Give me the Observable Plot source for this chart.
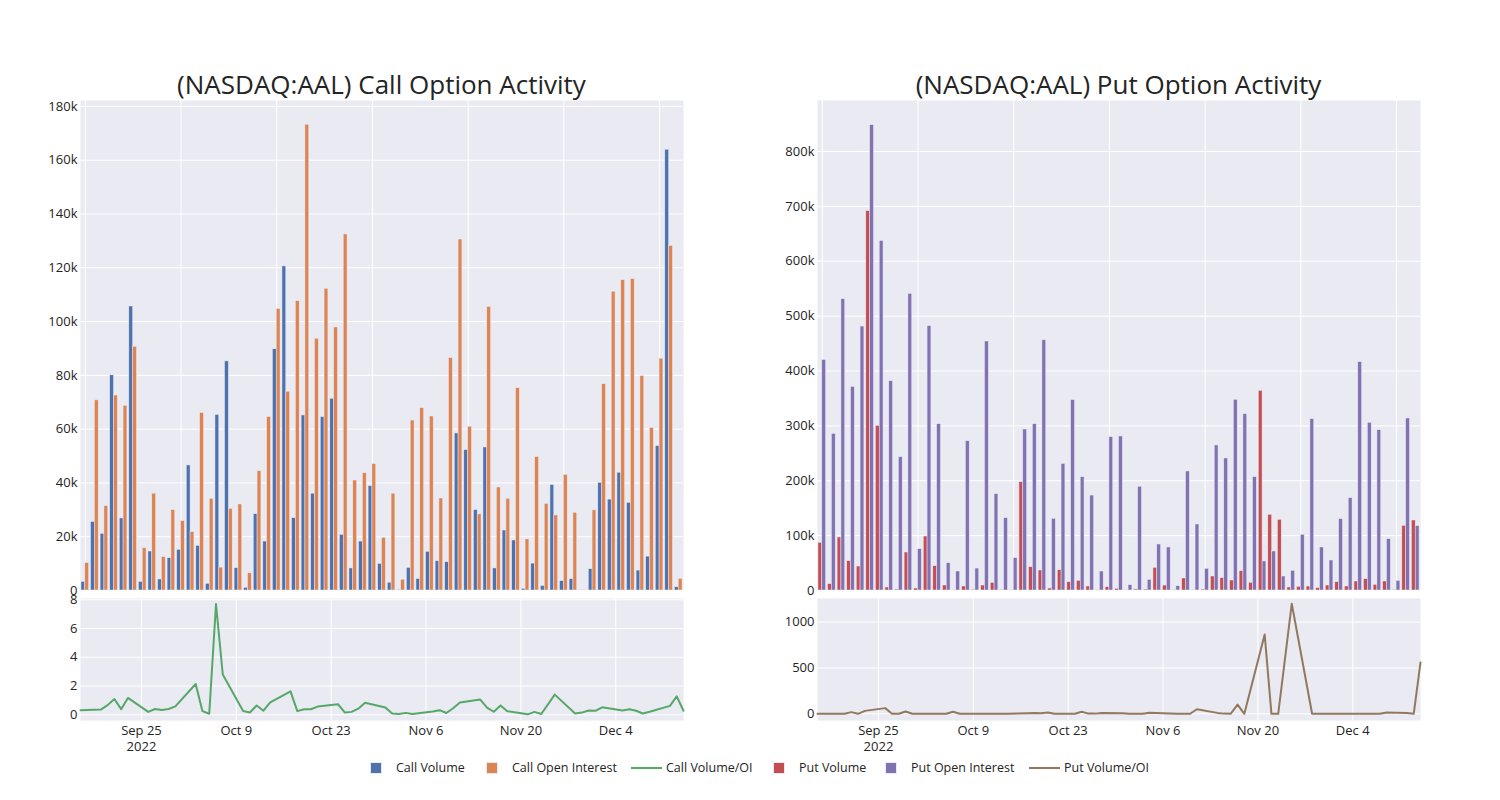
<!DOCTYPE html>
<html><head><meta charset="utf-8">
<script src="https://cdn.jsdelivr.net/npm/d3@7"></script>
<script src="https://cdn.jsdelivr.net/npm/@observablehq/plot@0.6"></script>
<style>
body{margin:0;background:#fff;font-family:"Open Sans",sans-serif;}
#root{position:relative;width:1500px;height:800px;overflow:hidden;background:#fff}
.panel{position:absolute}
.title{position:absolute;top:67px;height:34px;line-height:34px;font-size:26px;color:#242424;white-space:nowrap;transform:translateX(-50%)}
.lg{position:absolute;top:759px;height:18px;line-height:18px;font-size:12.5px;color:#242424;white-space:nowrap}
.sq{position:absolute;top:762px;width:12px;height:12px;box-sizing:border-box;border:0.5px solid #eaeaf2}
.ln{position:absolute;top:767px;width:31px;height:2px}
</style></head><body><div id="root"></div>
<script>
const dates = ["2022-09-16","2022-09-19","2022-09-20","2022-09-21","2022-09-22","2022-09-23",
"2022-09-26","2022-09-27","2022-09-28","2022-09-29","2022-09-30",
"2022-10-03","2022-10-04","2022-10-05","2022-10-06","2022-10-07",
"2022-10-10","2022-10-11","2022-10-12","2022-10-13","2022-10-14",
"2022-10-17","2022-10-18","2022-10-19","2022-10-20","2022-10-21",
"2022-10-24","2022-10-25","2022-10-26","2022-10-27","2022-10-28",
"2022-10-31","2022-11-01","2022-11-02","2022-11-03","2022-11-04",
"2022-11-07","2022-11-08","2022-11-09","2022-11-10","2022-11-11",
"2022-11-14","2022-11-15","2022-11-16","2022-11-17","2022-11-18",
"2022-11-21","2022-11-22","2022-11-23","2022-11-25",
"2022-11-28","2022-11-29","2022-11-30","2022-12-01","2022-12-02",
"2022-12-05","2022-12-06","2022-12-07","2022-12-08","2022-12-09",
"2022-12-12","2022-12-13","2022-12-14"];

const callVolume = [3200,25500,21100,80000,26800,105600,3200,14500,4100,12000,15100,46500,16600,2500,65300,85200,8300,1000,28400,18200,89700,120500,26900,65100,36000,64500,71300,20700,8200,18200,38800,9900,2900,200,8400,4300,14400,10900,10500,58400,52200,29900,53200,8200,22300,18600,600,10000,1700,39200,3500,4200,30,7900,40000,33800,43800,32600,7400,12600,53700,163900,1200];
const callOI = [10200,70700,31400,72500,68700,90600,15700,36000,12400,29900,25800,21700,66000,34100,8500,30400,32000,6400,44400,64500,104700,73900,107600,173200,93600,112200,97800,132400,40900,43600,47000,19600,36000,4000,63200,67800,64700,34200,86400,130500,60900,28300,105400,38300,34100,75200,19000,49600,32200,27900,43000,28900,100,29800,76700,111100,115400,115800,79700,60400,86200,128100,4300];
const callRatio = [0.31,0.36,0.67,1.1,0.39,1.17,0.2,0.4,0.33,0.4,0.58,2.14,0.25,0.07,7.7,2.8,0.26,0.16,0.64,0.28,0.86,1.63,0.25,0.38,0.38,0.57,0.73,0.16,0.2,0.42,0.83,0.5,0.08,0.05,0.13,0.06,0.22,0.32,0.12,0.45,0.86,1.06,0.5,0.21,0.65,0.25,0.03,0.2,0.05,1.4,0.08,0.15,0.3,0.27,0.52,0.3,0.38,0.28,0.09,0.21,0.62,1.28,0.28];
const putVolume = [86900,11500,96600,53500,43700,691400,300000,5500,1800,69300,3600,98400,44300,9100,500,7300,1500,9100,14000,1000,500,197400,42500,36500,3600,37000,15200,17600,7300,500,6000,3000,500,2000,1800,41300,9000,300,21900,200,1800,25500,22500,18200,35200,14000,363900,137900,128800,5500,6700,7300,4300,9100,15200,7300,16400,20700,10300,16400,1200,117900,127600];
const putOI = [420000,285500,531000,371000,481000,848000,637000,381500,243000,540700,75300,481800,303000,49800,34600,272000,40000,453800,175600,131800,58900,293400,303000,456000,130600,230800,347000,206600,173000,34600,279500,280700,9700,189000,19400,83800,78400,7900,216900,120300,39500,264300,240600,347500,321400,206600,52900,71100,25500,35800,101500,312300,78400,54700,130000,168300,416200,305600,292200,93600,17600,313500,117300];
const putRatio = [0,0,0,18,0,32,62,0,0,25,0,0,0,0,22,0,0,0,0,0,0,5,8,5,15,0,0,22,2,2,10,5,1,1,1,12,4,1,1,1,50,10,2,1,100,0,865,0,0,1200,0,0,0,0,0,0,0,0,0,15,8,0,560];

const callBarTicks = [0,20000,40000,60000,80000,100000,120000,140000,160000,180000];
const putBarTicks = [0,100000,200000,300000,400000,500000,600000,700000,800000];
const callLineTicks = [0,2,4,6,8];
const putLineTicks = [0,500,1000];
const dateTicks = ["2022-09-25","2022-10-09","2022-10-23","2022-11-06","2022-11-20","2022-12-04"];
const titles = ["(NASDAQ:AAL) Call Option Activity","(NASDAQ:AAL) Put Option Activity"];
const legendItems = [
  {name:"Call Volume", kind:"bar", color:"#4c72b0"},
  {name:"Call Open Interest", kind:"bar", color:"#dd8452"},
  {name:"Call Volume/OI", kind:"line", color:"#55a868"},
  {name:"Put Volume", kind:"bar", color:"#c44e52"},
  {name:"Put Open Interest", kind:"bar", color:"#8172b3"},
  {name:"Put Volume/OI", kind:"line", color:"#937860"}
];

const BG = "#eaeaf2", TXT = "#242424";
const parse = d3.utcParse("%Y-%m-%d");
const dateObjs = dates.map(parse);
const tickObjs = dateTicks.map(parse);
const gridCats = dates.filter((d,i) => i % 10 === 0);
const fmtK = d => d === 0 ? "0" : (d/1000) + "k";
const fmtDate = (d,i) => d3.utcFormat("%b %-d")(d) + (i === 0 ? "\n" + d3.utcFormat("%Y")(d) : "");
const fmtInt = d3.format("d");

const W = 690, ML = 80, MR = 7;
const style = {fontFamily:"'Open Sans', sans-serif", fontSize:"13px", color:TXT, background:"transparent", overflow:"visible"};

function barPanel(vol, oi, c1, c2, yMax, yTicks) {
  const H = 500, MT = 5, MB = 5;
  const step = (W - ML - MR) / dates.length;
  const rows = dates.map((d,i) => ({d, v:vol[i], o:oi[i]}));
  return Plot.plot({
    width:W, height:H, marginLeft:ML, marginRight:MR, marginTop:MT, marginBottom:MB, style,
    x:{type:"band", domain:dates, padding:0, round:false, axis:null},
    y:{domain:[0,yMax]},
    marks:[
      Plot.frame({fill:BG, stroke:"none"}),
      Plot.gridY(yTicks, {stroke:"white", strokeOpacity:1, strokeWidth:1}),
      Plot.ruleX(gridCats, {x:d=>d, stroke:"white", strokeWidth:1}),
      Plot.barY(rows, {x:"d", y:"v", fill:c1, stroke:BG, strokeWidth:0.5, insetLeft:step*0.1, insetRight:step*0.5}),
      Plot.barY(rows, {x:"d", y:"o", fill:c2, stroke:BG, strokeWidth:0.5, insetLeft:step*0.5, insetRight:step*0.1}),
      Plot.axisY(yTicks, {tickFormat:fmtK, tickSize:0, tickPadding:3, label:null})
    ]
  });
}

function linePanel(vals, color, yDomain, yTicks) {
  const H = 165, MT = 5, MB = 38;
  const rows = dateObjs.map((d,i) => ({d, v:vals[i]}));
  return Plot.plot({
    width:W, height:H, marginLeft:ML, marginRight:MR, marginTop:MT, marginBottom:MB, style,
    x:{type:"utc", domain:[dateObjs[0], dateObjs[dateObjs.length-1]]},
    y:{domain:yDomain},
    marks:[
      Plot.frame({fill:BG, stroke:"none"}),
      Plot.gridX(tickObjs, {stroke:"white", strokeOpacity:1, strokeWidth:1}),
      Plot.gridY(yTicks, {stroke:"white", strokeOpacity:1, strokeWidth:1}),
      Plot.lineY(rows, {x:"d", y:"v", stroke:color, strokeWidth:2}),
      Plot.axisX(tickObjs, {tickFormat:fmtDate, tickSize:0, tickPadding:2, lineHeight:1.3, label:null}),
      Plot.axisY(yTicks, {tickFormat:fmtInt, tickSize:0, tickPadding:3, label:null})
    ]
  });
}

const root = document.getElementById("root");
function place(el, left, top) {
  const div = document.createElement("div");
  div.className = "panel"; div.style.left = left + "px"; div.style.top = top + "px";
  div.appendChild(el); root.appendChild(div);
}
place(barPanel(callVolume, callOI, "#4c72b0", "#dd8452", 182200, callBarTicks), 0, 95);
place(linePanel(callRatio, "#55a868", [-0.4, 8.09], callLineTicks), 0, 593);
place(barPanel(putVolume, putOI, "#c44e52", "#8172b3", 893000, putBarTicks), 737, 95);
place(linePanel(putRatio, "#937860", [-73, 1257], putLineTicks), 737, 593);

[[titles[0], 381.5],[titles[1], 1118.5]].forEach(([t,x]) => {
  const d = document.createElement("div"); d.className = "title"; d.textContent = t;
  d.style.left = x + "px"; root.appendChild(d);
});

const legendX = [370, 486, 631, 773, 885, 1029];
legendItems.forEach((it,i) => {
  const m = document.createElement("div");
  m.className = it.kind === "bar" ? "sq" : "ln";
  m.style.left = legendX[i] + "px"; m.style.background = it.color;
  root.appendChild(m);
  const t = document.createElement("div"); t.className = "lg"; t.textContent = it.name;
  t.style.left = (legendX[i] + (it.kind === "bar" ? 26 : 35)) + "px";
  root.appendChild(t);
});
</script></body></html>
